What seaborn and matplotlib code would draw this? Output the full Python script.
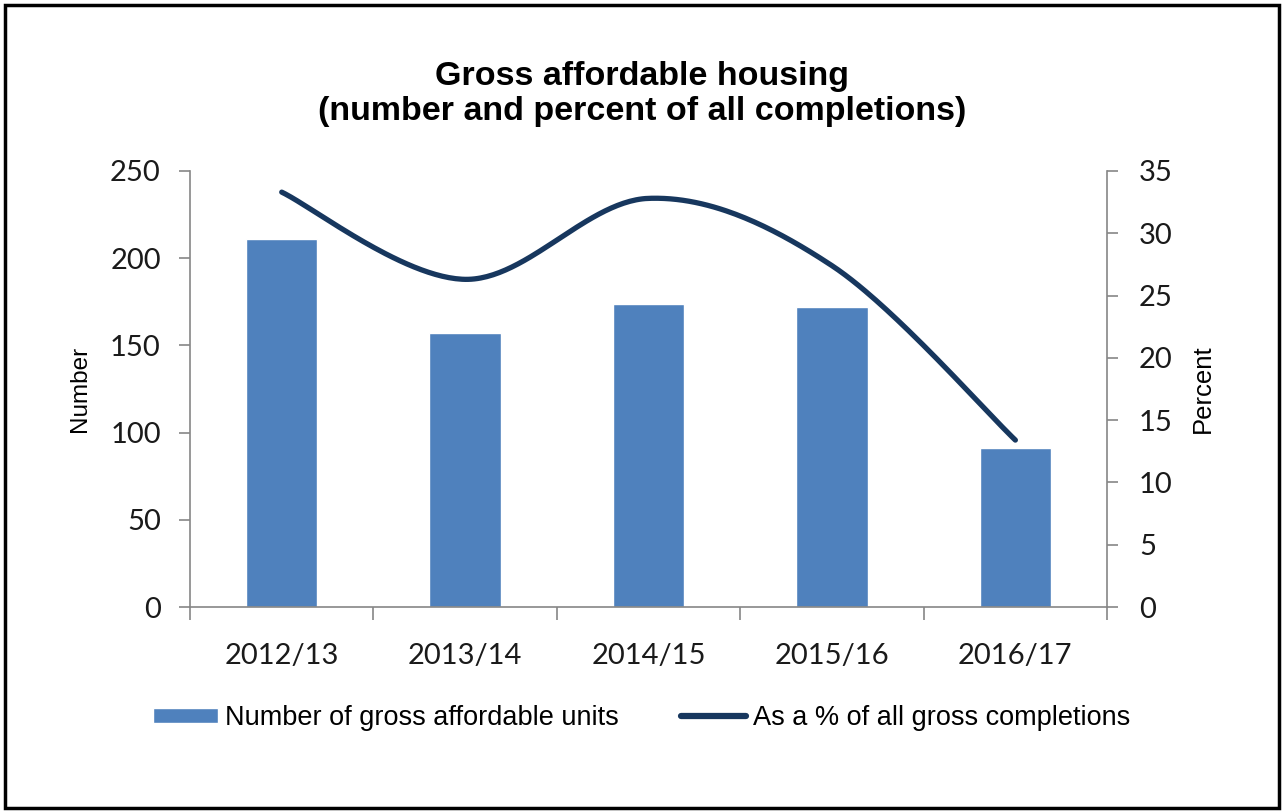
import numpy as np
import pandas as pd
import seaborn as sns
import matplotlib
matplotlib.use("Agg")
import matplotlib.pyplot as plt
from matplotlib.patches import Rectangle
from matplotlib.lines import Line2D

years = ["2012/13", "2013/14", "2014/15", "2015/16", "2016/17"]
units = [211, 157, 174, 172, 91]
pct_completions = [33.3, 26.3, 32.8, 27.4, 13.4]

bar_label = "Number of gross affordable units"
line_label = "As a % of all gross completions"

bar_color = "#4F81BD"
line_color = "#17375E"
axis_grey = "#868686"


def smooth_curve(y, n=60):
    # bezier smoothing through the points, like a spreadsheet "smoothed line"
    y = np.asarray(y, dtype=float)
    x = np.arange(len(y), dtype=float)
    pts = np.column_stack([x, y])
    padded = np.vstack([pts[0], pts, pts[-1]])
    out = []
    t = np.linspace(0, 1, n)[:, None]
    for i in range(len(pts) - 1):
        p0, p3 = padded[i + 1], padded[i + 2]
        b1 = p0 + (padded[i + 2] - padded[i]) / 6.0
        b2 = p3 - (padded[i + 3] - padded[i + 1]) / 6.0
        seg = ((1 - t) ** 3) * p0 + 3 * ((1 - t) ** 2) * t * b1 + 3 * (1 - t) * t ** 2 * b2 + t ** 3 * p3
        out.append(seg if i == 0 else seg[1:])
    out = np.vstack(out)
    return out[:, 0], out[:, 1]


sns.set_theme(style="white")
plt.rcParams["font.family"] = ["Liberation Sans", "DejaVu Sans"]
plt.rcParams["text.color"] = "black"
plt.rcParams["axes.labelcolor"] = "black"
plt.rcParams["xtick.labelcolor"] = "#1a1a1a"
plt.rcParams["ytick.labelcolor"] = "#1a1a1a"

df = pd.DataFrame({"year": years, "units": units, "pct": pct_completions})

fig = plt.figure(figsize=(12.84, 8.11), dpi=100)
ax = fig.add_axes([0.148, 0.2515, 0.7142, 0.5377])

sns.barplot(data=df, x="year", y="units", color=bar_color, saturation=1,
            width=0.39, ax=ax)
ax.set_xlim(-0.5, len(years) - 0.5)
ax.set_ylim(0, 250)
ax.set_yticks(range(0, 251, 50))
ax.set_xlabel("")
ax.set_ylabel("Number", fontsize=17.5, labelpad=14)

ax2 = ax.twinx()
sx, sy = smooth_curve(df["pct"])
sns.lineplot(x=sx, y=sy, ax=ax2, color=line_color, linewidth=3.8, sort=False,
             solid_capstyle="round", estimator=None)
ax2.set_ylim(0, 35)
ax2.set_yticks(range(0, 36, 5))
ax2.set_ylabel("Percent", fontsize=18.5, labelpad=13)

for a in (ax, ax2):
    for s in a.spines.values():
        s.set_visible(False)
ax.spines["left"].set_visible(True)
ax.spines["bottom"].set_visible(True)
ax2.spines["right"].set_visible(True)
for s in (ax.spines["left"], ax.spines["bottom"], ax2.spines["right"]):
    s.set_color(axis_grey)
    s.set_linewidth(1.2)

ax.tick_params(axis="y", left=True, length=8, width=1.2, color=axis_grey,
               labelsize=21, pad=13)
ax2.tick_params(axis="y", right=True, length=8, width=1.2, color=axis_grey,
                labelsize=21, pad=15)
for lab in ax.get_yticklabels() + ax2.get_yticklabels():
    lab.set_fontfamily("Lato")

# category ticks sit between the bars
ax.set_xticks(np.arange(-0.5, len(years), 1.0))
ax.set_xticklabels([])
ax.set_xticks(range(len(years)), minor=True)
ax.set_xticklabels(years, minor=True, fontsize=21, fontfamily="Lato")
ax.tick_params(axis="x", which="major", bottom=True, length=9, width=1.2,
               color=axis_grey)
ax.tick_params(axis="x", which="minor", bottom=False, pad=22)

fig.text(0.5, 0.906, "Gross affordable housing", ha="center", va="center",
         fontsize=24.5, fontweight="bold")
fig.text(0.5, 0.862, "(number and percent of all completions)", ha="center",
         va="center", fontsize=24.5, fontweight="bold")

handles = [Rectangle((0, 0), 1, 1, facecolor=bar_color),
           Line2D([0], [0], color=line_color, linewidth=4.5, solid_capstyle="round")]
fig.legend(handles, [bar_label, line_label], loc="center",
           bbox_to_anchor=(0.4995, 0.1147), ncol=2, frameon=False, fontsize=19.5,
           handlelength=2.4, handleheight=0.5, handletextpad=0.25,
           columnspacing=2.3)

fig.add_artist(Rectangle((0.004, 0.004), 0.992, 0.99, transform=fig.transFigure,
                         fill=False, edgecolor="black", linewidth=2.5))

fig.savefig("out.png", dpi=100)
